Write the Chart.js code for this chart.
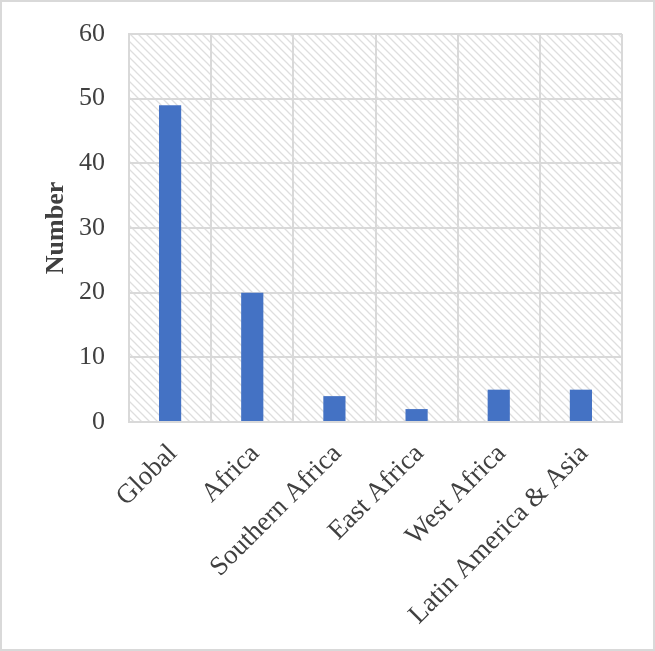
<!DOCTYPE html>
<html>
<head>
<meta charset="utf-8">
<script src="https://cdn.jsdelivr.net/npm/chart.js@4"></script>
<style>
  html, body { margin: 0; padding: 0; background: #fff; }
  #wrap { width: 655px; height: 651px; }
</style>
</head>
<body>
<div id="wrap"><canvas id="regionChart" width="655" height="651"></canvas></div>
<script>
const categories = ["Global", "Africa", "Southern Africa", "East Africa", "West Africa", "Latin America & Asia"];
const counts = [49, 20, 4, 2, 5, 5];
const yTicks = [0, 10, 20, 30, 40, 50, 60];

// hatch fill for the plot area
function makeHatch() {
    const c = document.createElement("canvas");
    c.width = 8; c.height = 8;
    const g = c.getContext("2d");
    g.strokeStyle = "#dedede";
    g.lineWidth = 1.3;
    g.beginPath();
    g.moveTo(-1, -1); g.lineTo(9, 9);
    g.moveTo(-1, 7); g.lineTo(1, 9);
    g.moveTo(7, -1); g.lineTo(9, 1);
    g.stroke();
    return g.createPattern(c, "repeat");
}

const hatchPlugin = {
    id: "hatch",
    beforeDraw(chart) {
        const { ctx, chartArea: a } = chart;
        ctx.save();
        ctx.fillStyle = makeHatch();
        ctx.fillRect(a.left, a.top, a.right - a.left, a.bottom - a.top);
        ctx.restore();
    },
    afterDraw(chart) {
        const ctx = chart.ctx;
        ctx.save();
        ctx.strokeStyle = "#d9d9d9";
        ctx.lineWidth = 2;
        ctx.strokeRect(1, 1, chart.width - 2, chart.height - 2);
        ctx.restore();
    }
};

const ctx = document.getElementById("regionChart").getContext("2d");
new Chart(ctx, {
    type: "bar",
    data: {
        labels: categories,
        datasets: [{
            label: "Number",
            data: counts,
            backgroundColor: "#4472c4",
            barPercentage: 0.27,
            categoryPercentage: 1
        }]
    },
    options: {
        responsive: false,
        animation: false,
        layout: { padding: { left: 41, top: 34, right: 33, bottom: 0 } },
        plugins: {
            legend: { display: false },
            tooltip: { enabled: false }
        },
        scales: {
            x: {
                grid: { color: "#d9d9d9", lineWidth: 2, drawTicks: false, offset: true },
                border: { color: "#d9d9d9", width: 2 },
                ticks: {
                    color: "#404040",
                    font: { family: "Liberation Serif", size: 27 },
                    maxRotation: 45,
                    minRotation: 45,
                    padding: 16,
                    labelOffset: 3
                },
                afterFit(scale) {
                    scale.height = 229;
                    scale.paddingLeft = 0;
                    scale.paddingRight = 0;
                }
            },
            y: {
                min: 0,
                max: 60,
                afterBuildTicks(scale) { scale.ticks = yTicks.map(v => ({ value: v })); },
                grid: { color: "#d9d9d9", lineWidth: 2, drawTicks: false },
                border: { color: "#d9d9d9", width: 2 },
                ticks: {
                    color: "#404040",
                    font: { family: "Liberation Serif", size: 26 },
                    padding: 24
                },
                title: {
                    display: true,
                    text: "Number",
                    color: "#404040",
                    font: { family: "Liberation Serif", size: 26, weight: "bold" },
                    padding: 0
                },
                afterFit(scale) {
                    scale.width = 88;
                    scale.paddingTop = 0;
                    scale.paddingBottom = 0;
                }
            }
        }
    },
    plugins: [hatchPlugin]
});
</script>
</body>
</html>
